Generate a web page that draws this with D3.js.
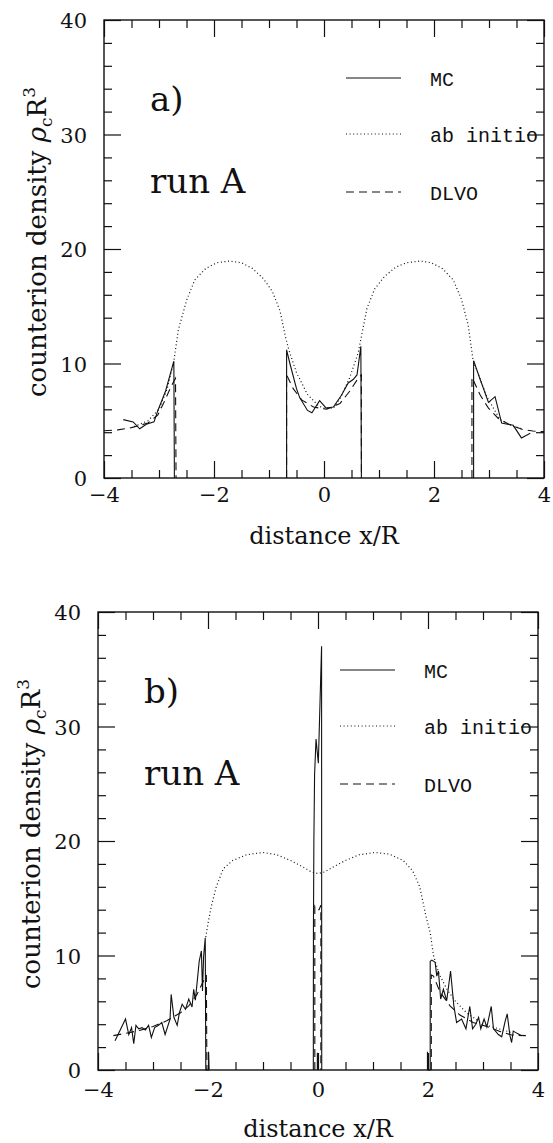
<!DOCTYPE html>
<html>
<head>
<meta charset="utf-8">
<script src="https://cdn.jsdelivr.net/npm/d3@7"></script>
<style>
  body { margin: 0; background: #fff; }
  svg { display: block; }
</style>
</head>
<body>
<div id="chart"></div>
<script>
// axis ticks
const xMajor = [-4, -2, 0, 2, 4];
const xLabels = ["\u22124", "\u22122", "0", "2", "4"];
const xMinor = [-3.5, -3, -2.5, -1.5, -1, -0.5, 0.5, 1, 1.5, 2.5, 3, 3.5];
const yMajor = [0, 10, 20, 30, 40];
const yMinor = [2, 4, 6, 8, 12, 14, 16, 18, 22, 24, 26, 28, 32, 34, 36, 38];
const legendNames = ["MC", "ab initio", "DLVO"];

// panel a) -- each array is one connected piece of a curve, [x/R, density]
const mcA_left = [[-3.65, 5.1], [-3.47, 4.9], [-3.35, 4.3], [-3.23, 4.7], [-3.09, 4.9], [-3.02, 5.9],
  [-2.88, 7.6], [-2.73, 10.2], [-2.72, 0]];
const mcA_mid = [[-0.68, 0], [-0.68, 11.2], [-0.62, 10.0], [-0.5, 7.8], [-0.44, 7.0], [-0.3, 5.9],
  [-0.22, 5.7], [-0.08, 6.75], [0.04, 6.1], [0.17, 6.2], [0.32, 7.25], [0.44, 8.3], [0.53, 8.6],
  [0.6, 9.0], [0.67, 11.5], [0.68, 0]];
const mcA_right = [[2.72, 0], [2.72, 10.25], [2.84, 8.6], [2.99, 6.6], [3.11, 7.1], [3.23, 4.8],
  [3.44, 4.6], [3.59, 3.5], [3.75, 3.9]];
const dlvoA_left = [[-4.0, 4.13], [-3.75, 4.2], [-3.5, 4.4], [-3.2, 4.8], [-3.02, 5.5], [-2.9, 6.7],
  [-2.78, 8.0], [-2.7, 8.7], [-2.69, 0]];
const dlvoA_mid = [[-0.68, 0], [-0.68, 9.0], [-0.56, 7.8], [-0.4, 6.8], [-0.19, 6.2], [0.05, 6.0],
  [0.29, 6.5], [0.47, 7.6], [0.62, 8.7], [0.68, 9.0], [0.68, 0]];
const dlvoA_right = [[2.69, 0], [2.69, 8.8], [2.84, 7.25], [2.99, 6.1], [3.17, 5.2], [3.4, 4.6],
  [3.6, 4.25], [3.8, 4.1], [4.0, 4.05]];
const abA = [[-3.45, 4.5], [-3.2, 5.0], [-3.0, 6.0], [-2.85, 7.8], [-2.73, 10.2], [-2.65, 12.9],
  [-2.5, 15.5], [-2.35, 17.3], [-2.15, 18.3], [-1.95, 18.8], [-1.72, 18.95], [-1.5, 18.8],
  [-1.3, 18.3], [-1.1, 17.4], [-0.94, 16.3], [-0.8, 14.6], [-0.7, 12.3], [-0.64, 11.2],
  [-0.5, 9.2], [-0.3, 7.3], [-0.1, 6.3], [0.0, 6.1], [0.17, 6.1], [0.3, 7.0], [0.47, 8.8],
  [0.62, 10.9], [0.69, 12.6], [0.78, 14.8], [0.92, 16.5], [1.1, 17.6], [1.3, 18.4], [1.5, 18.8],
  [1.75, 18.95], [1.95, 18.8], [2.15, 18.3], [2.35, 17.3], [2.5, 15.6], [2.62, 13.4],
  [2.71, 10.3], [2.96, 7.1], [3.2, 5.1], [3.44, 4.5], [3.6, 4.3]];

// panel b)
const mcB_left = [[-3.69, 2.55], [-3.5, 4.45], [-3.44, 3.1], [-3.39, 3.7], [-3.35, 2.3], [-3.31, 3.9],
  [-3.26, 3.6], [-3.2, 3.7], [-3.14, 3.5], [-3.08, 3.9], [-3.03, 2.85], [-2.97, 3.7], [-2.9, 3.9],
  [-2.84, 4.15], [-2.78, 3.1], [-2.69, 4.45], [-2.67, 6.6], [-2.62, 4.6], [-2.56, 3.9],
  [-2.52, 5.0], [-2.47, 5.75], [-2.41, 5.3], [-2.35, 6.2], [-2.29, 5.5], [-2.26, 7.05],
  [-2.23, 6.1], [-2.18, 8.5], [-2.16, 9.5], [-2.12, 10.4], [-2.1, 6.9], [-2.08, 9.9],
  [-2.05, 11.55], [-2.04, 0], [-1.99, 0], [-1.99, 1.6], [-1.98, 0]];
const mcB_mid = [[-0.085, 0], [-0.083, 12], [-0.075, 20], [-0.062, 25.8], [-0.036, 28.9],
  [0.006, 26.8], [0.065, 37.0], [0.068, 0]];
const mcB_stub = [[-0.012, 0], [-0.012, 1.5], [0.0, 0]];
const mcB_right = [[1.99, 0], [1.99, 1.6], [2.0, 0], [2.04, 0], [2.04, 9.5], [2.07, 9.6], [2.13, 9.4],
  [2.16, 8.2], [2.19, 8.65], [2.23, 6.2], [2.28, 7.05], [2.34, 6.05], [2.41, 8.65], [2.47, 5.6],
  [2.52, 4.15], [2.61, 4.45], [2.69, 3.6], [2.76, 5.55], [2.81, 3.6], [2.87, 4.0], [2.92, 4.6],
  [2.96, 3.6], [3.02, 4.45], [3.07, 3.75], [3.15, 5.55], [3.19, 3.6], [3.28, 3.1], [3.34, 2.9],
  [3.4, 4.2], [3.44, 4.9], [3.49, 3.0], [3.52, 2.4], [3.55, 3.4], [3.62, 3.2], [3.7, 3.0]];
const dlvoB_left = [[-3.72, 3.0], [-3.5, 3.2], [-3.25, 3.45], [-3.0, 3.8], [-2.75, 4.3], [-2.5, 5.0],
  [-2.35, 5.6], [-2.2, 6.6], [-2.1, 7.6], [-2.03, 8.3], [-2.02, 0]];
const dlvoB_mid = [[-0.058, 0], [-0.058, 14.3], [-0.02, 14.0], [0.02, 14.0], [0.052, 14.4], [0.052, 0]];
const dlvoB_right = [[2.06, 0], [2.06, 8.3], [2.1, 8.2], [2.22, 6.8], [2.4, 5.6], [2.58, 4.8],
  [2.82, 4.15], [3.07, 3.8], [3.32, 3.35], [3.52, 3.05], [3.78, 3.0]];
const abB = [[-2.04, 11.6], [-2.0, 12.8], [-1.94, 14.3], [-1.85, 16.0], [-1.72, 17.6], [-1.55, 18.3],
  [-1.3, 18.8], [-1.0, 19.0], [-0.75, 18.8], [-0.5, 18.3], [-0.3, 17.8], [-0.12, 17.3], [0.0, 17.15],
  [0.12, 17.3], [0.3, 17.8], [0.5, 18.3], [0.75, 18.8], [1.04, 19.0], [1.3, 18.85], [1.55, 18.3],
  [1.72, 17.4], [1.85, 16.0], [1.96, 13.5], [2.04, 12.0], [2.1, 10.0], [2.2, 8.4], [2.35, 7.0],
  [2.5, 6.0], [2.7, 5.0], [3.0, 4.0], [3.5, 3.3]];

const panels = [
  { tag: "a)", left: 104, top: 20, tickLab: 24, titleOff: 66,
    mc: [mcA_left, mcA_mid, mcA_right], dlvo: [dlvoA_left, dlvoA_mid, dlvoA_right], ab: [abA] },
  { tag: "b)", left: 98, top: 612, tickLab: 27, titleOff: 67,
    mc: [mcB_left, mcB_mid, mcB_stub, mcB_right], dlvo: [dlvoB_left, dlvoB_mid, dlvoB_right], ab: [abB] }
];

const W = 553, H = 1143, PW = 440, PH = 458;
const serif = '"DejaVu Serif", serif';
const mono = '"Liberation Mono", monospace';
const dash = { mc: null, ab: "1,2.6", dlvo: "8,5" };

const svg = d3.select("#chart").append("svg")
  .attr("width", W).attr("height", H)
  .attr("viewBox", `0 0 ${W} ${H}`);

panels.forEach(p => drawPanel(p));

function drawPanel(p) {
  const x = d3.scaleLinear().domain([-4, 4]).range([p.left, p.left + PW]);
  const y = d3.scaleLinear().domain([0, 40]).range([p.top + PH, p.top]);
  const g = svg.append("g");

  // ticks all round, pointing inward
  const axes = [
    [d3.axisBottom(x), y(0), true], [d3.axisTop(x), y(40), false]
  ];
  axes.forEach(([ax, ty, lab]) => {
    g.append("g").attr("transform", `translate(0,${ty})`)
      .call(ax.tickValues(xMajor).tickSize(-17).tickSizeOuter(0)
        .tickFormat(lab ? (d, i) => xLabels[i] : ""));
    g.append("g").attr("transform", `translate(0,${ty})`)
      .call(ax.tickValues(xMinor).tickSize(-8).tickFormat(""));
  });
  [[d3.axisLeft(y), x(-4), true], [d3.axisRight(y), x(4), false]].forEach(([ax, tx, lab]) => {
    g.append("g").attr("transform", `translate(${tx},0)`)
      .call(ax.tickValues(yMajor).tickSize(-17).tickSizeOuter(0)
        .tickFormat(lab ? d => d : ""));
    g.append("g").attr("transform", `translate(${tx},0)`)
      .call(ax.tickValues(yMinor).tickSize(-8).tickFormat(""));
  });
  g.selectAll(".domain").remove();
  g.selectAll(".tick line").attr("stroke", "#111").attr("stroke-width", 1.2);
  g.selectAll(".tick text").attr("fill", "#111")
    .style("font-family", serif).style("font-size", "21px");
  // x labels sit below, y labels to the left
  g.selectAll("g").filter(function () {
    return this.getAttribute("transform") === `translate(0,${y(0)})`;
  }).selectAll(".tick text").attr("y", p.tickLab).attr("dy", 0);
  g.selectAll("g").filter(function () {
    return this.getAttribute("transform") === `translate(${x(-4)},0)`;
  }).selectAll(".tick text").attr("x", -17).attr("dy", "0.36em");

  g.append("rect")
    .attr("x", x(-4)).attr("y", y(40))
    .attr("width", PW).attr("height", PH)
    .attr("fill", "none").attr("stroke", "#111").attr("stroke-width", 1.4);

  const line = d3.line().x(d => x(d[0])).y(d => y(d[1]));
  const curves = [["ab", p.ab], ["dlvo", p.dlvo], ["mc", p.mc]];
  curves.forEach(([k, segs]) => {
    segs.forEach(s => {
      g.append("path").datum(s)
        .attr("d", line)
        .attr("fill", "none")
        .attr("stroke", "#111")
        .attr("stroke-width", k === "ab" ? 1.2 : 1.1)
        .attr("stroke-dasharray", dash[k]);
    });
  });

  // legend
  const keys = ["mc", "ab", "dlvo"];
  const legY = [58, 114, 172];
  legendNames.forEach((name, i) => {
    const ly = p.top + legY[i];
    g.append("line")
      .attr("x1", p.left + 242).attr("x2", p.left + 297)
      .attr("y1", ly).attr("y2", ly)
      .attr("stroke", "#111").attr("stroke-width", 1.1)
      .attr("stroke-dasharray", dash[keys[i]]);
    g.append("text")
      .attr("x", p.left + 326).attr("y", ly + 8)
      .style("font-family", mono).style("font-size", "20px")
      .attr("fill", "#111")
      .text(name);
  });

  g.append("text")
    .attr("x", p.left + 46).attr("y", p.top + 91)
    .style("font-family", serif).style("font-size", "34px").attr("fill", "#111")
    .text(p.tag);
  g.append("text")
    .attr("x", p.left + 46).attr("y", p.top + 173)
    .style("font-family", serif).style("font-size", "34px").attr("fill", "#111")
    .text("run A");

  // axis titles
  g.append("text")
    .attr("x", p.left + PW / 2).attr("y", y(0) + p.titleOff)
    .attr("text-anchor", "middle")
    .style("font-family", serif).style("font-size", "24px").attr("fill", "#111")
    .text("distance x/R");

  const yt = g.append("text")
    .attr("transform", `translate(${p.left - 58},${p.top + 222}) rotate(-90)`)
    .attr("text-anchor", "middle")
    .style("font-family", serif).style("font-size", "26px").attr("fill", "#111");
  yt.append("tspan").text("counterion density ");
  yt.append("tspan").style("font-style", "italic").text("\u03c1");
  yt.append("tspan").attr("dy", 6).style("font-size", "17px").text("c");
  yt.append("tspan").attr("dy", -6).text("R");
  yt.append("tspan").attr("dy", -11).style("font-size", "17px").text("3");
}
</script>
</body>
</html>
